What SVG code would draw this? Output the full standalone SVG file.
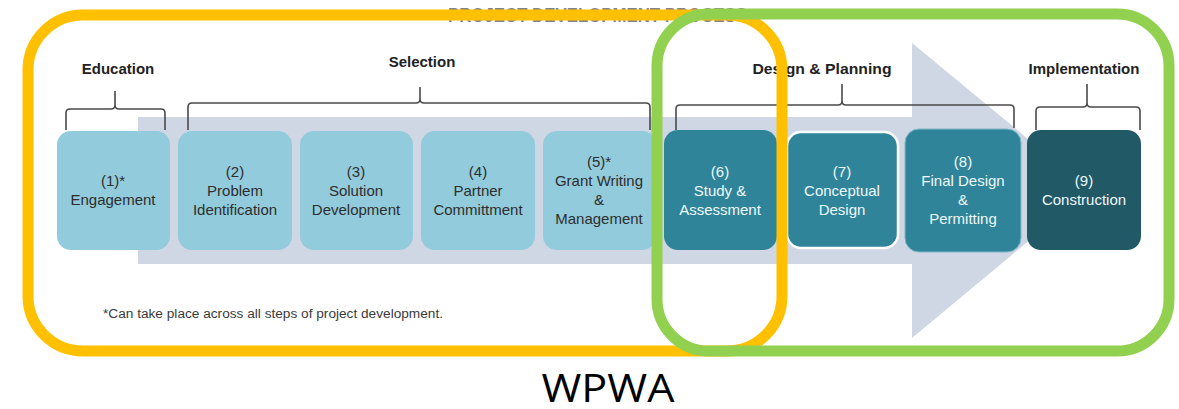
<svg xmlns="http://www.w3.org/2000/svg" width="1179" height="409" viewBox="0 0 1179 409">
<style>
.bg{fill:#ffffff}
.band{fill:#cfd6e4}
.lt{fill:#92cbdb}
.dk{fill:#2f8499}
.dk9{fill:#215967}
.tl{font-family:"Liberation Sans",Arial,sans-serif;font-size:15px;fill:#2e2e2e;text-anchor:middle}
.tw{font-family:"Liberation Sans",Arial,sans-serif;font-size:15px;fill:#eef8fb;text-anchor:middle}
.hd{font-family:"Liberation Sans",Arial,sans-serif;font-size:15px;font-weight:bold;fill:#222;text-anchor:middle}
.brace{fill:none;stroke:#4a4a4a;stroke-width:1.6;stroke-linejoin:round}
.ring{fill:none;stroke-width:11}
</style>
<rect class="bg" x="0" y="0" width="1179" height="409"/>
<text x="448" y="22" font-family="Liberation Sans,Arial,sans-serif" font-size="20" font-weight="bold" fill="#666" opacity="0.8" textLength="299" lengthAdjust="spacingAndGlyphs">PROJECT DEVELOPMENT PROCESS</text>
<g id="arrow">
<rect class="band" x="138" y="117" width="776" height="147"/>
<polygon class="band" points="912,43 1090,190 912,338"/>
</g>
<g id="connectors">
<path class="brace" d="M66,130 L66,113 Q66,109 70,109 L111,109 Q115,109 115,105 L115,91 M115,105 Q115,109 119,109 L161,109 Q165,109 165,113 L165,130"/>
<path class="brace" d="M188,130 L188,107 Q188,103 192,103 L416,103 Q420,103 420,99 L420,87 M420,99 Q420,103 424,103 L646,103 Q650,103 650,107 L650,130"/>
<path class="brace" d="M676,130 L676,109 Q676,105 680,105 L838,105 Q842,105 842,101 L842,84 M842,101 Q842,105 846,105 L1010,105 Q1014,105 1014,109 L1014,128"/>
<path class="brace" d="M1036,130 L1036,111 Q1036,107 1040,107 L1083,107 Q1087,107 1087,103 L1087,84 M1087,103 Q1087,107 1091,107 L1136,107 Q1140,107 1140,111 L1140,130"/>
</g>
<g id="headings">
<text class="hd" x="118" y="74">Education</text>
<text class="hd" x="422" y="67">Selection</text>
<text class="hd" x="822" y="74" textLength="139" lengthAdjust="spacingAndGlyphs">Design &amp; Planning</text>
<text class="hd" x="1084" y="74">Implementation</text>
</g>
<g id="n1"><rect class="lt" x="57" y="131" width="113" height="119" rx="14"/>
<text class="tl" x="113" y="186">(1)*</text><text class="tl" x="113" y="205">Engagement</text></g>
<g id="n2"><rect class="lt" x="178" y="131" width="114" height="119" rx="14"/>
<text class="tl" x="235" y="177">(2)</text><text class="tl" x="235" y="196">Problem</text><text class="tl" x="235" y="215">Identification</text></g>
<g id="n3"><rect class="lt" x="300" y="131" width="113" height="119" rx="14"/>
<text class="tl" x="356" y="177">(3)</text><text class="tl" x="356" y="196">Solution</text><text class="tl" x="356" y="215">Development</text></g>
<g id="n4"><rect class="lt" x="421" y="131" width="114" height="119" rx="14"/>
<text class="tl" x="478" y="177">(4)</text><text class="tl" x="478" y="196">Partner</text><text class="tl" x="478" y="215">Committment</text></g>
<g id="n5"><rect class="lt" x="543" y="131" width="113" height="119" rx="14"/>
<text class="tl" x="599" y="167">(5)*</text><text class="tl" x="599" y="186">Grant Writing</text><text class="tl" x="599" y="205">&amp;</text><text class="tl" x="599" y="224">Management</text></g>
<g id="n6"><rect class="dk" x="664" y="130" width="113" height="120" rx="14"/>
<text class="tw" x="720" y="177">(6)</text><text class="tw" x="720" y="196">Study &amp;</text><text class="tw" x="720" y="215">Assessment</text></g>
<g id="n7"><rect class="dk" x="787" y="132" width="111" height="116" rx="14" stroke="#ffffff" stroke-width="2.5"/>
<text class="tw" x="842" y="177">(7)</text><text class="tw" x="842" y="196">Conceptual</text><text class="tw" x="842" y="215">Design</text></g>
<g id="n8"><rect class="dk" x="905" y="129" width="116" height="123" rx="14" stroke="#7fb8c7" stroke-width="1"/>
<text class="tw" x="963" y="167">(8)</text><text class="tw" x="963" y="186">Final Design</text><text class="tw" x="963" y="205">&amp;</text><text class="tw" x="963" y="224">Permitting</text></g>
<g id="n9"><rect class="dk9" x="1027" y="130" width="114" height="120" rx="14"/>
<text class="tw" x="1084" y="186">(9)</text><text class="tw" x="1084" y="205">Construction</text></g>
<text x="103" y="318" font-family="Liberation Sans,Arial,sans-serif" font-size="12" fill="#3a3a3a" textLength="340" lengthAdjust="spacingAndGlyphs">*Can take place across all steps of project development.</text>
<g id="yellow-group"><rect class="ring" x="28" y="15" width="754" height="336" rx="55" stroke="#ffc000"/></g>
<g id="green-group"><rect class="ring" x="657" y="14" width="512" height="337" rx="52" stroke="#92d050"/></g>
<text x="608" y="402" font-family="Open Sans,Noto Sans,sans-serif" font-size="38" fill="#000" text-anchor="middle" textLength="133" lengthAdjust="spacingAndGlyphs">WPWA</text>
</svg>
